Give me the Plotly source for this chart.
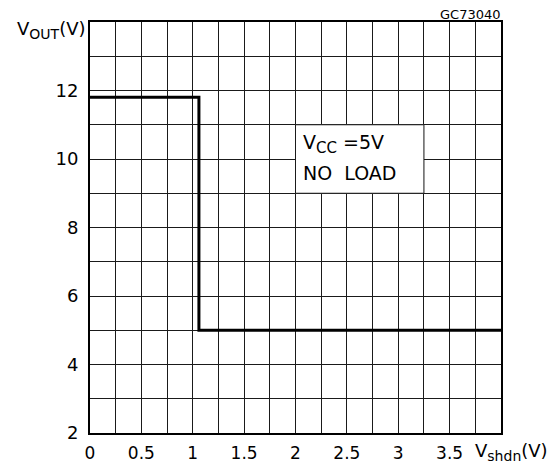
import plotly.graph_objects as go

# Data
shdn_v = [0.0, 1.06, 4.0]
vout = [11.8, 5.0, 5.0]

x_tick_vals = [i * 0.25 for i in range(17)]
x_tick_text = ["0", "", "0.5", "", "1", "", "1.5", "", "2", "", "2.5", "", "3", "", "3.5", "", ""]
y_tick_vals = list(range(2, 15))
y_tick_text = ["2", "", "4", "", "6", "", "8", "", "10", "", "12", "", ""]

FONT = "DejaVu Sans, Liberation Sans, sans-serif"
GRID = "#1a1a1a"

fig = go.Figure()
fig.add_trace(go.Scatter(
    x=shdn_v, y=vout, mode="lines", line=dict(color="black", width=3, shape="hv"),
    showlegend=False, hoverinfo="skip",
))

fig.add_shape(type="rect", x0=2, x1=3.25, y0=9, y1=11, xref="x", yref="y",
              fillcolor="white", line=dict(color=GRID, width=1), layer="above")

SUB = '<sub><span style="font-size:14px">{}</span></sub>'

fig.update_layout(
    width=550, height=463,
    margin=dict(l=82, r=57, t=14, b=38, autoexpand=False),
    paper_bgcolor="white", plot_bgcolor="white",
    font=dict(family=FONT, size=17, color="black"),
    xaxis=dict(range=[0, 4], tickvals=x_tick_vals, ticktext=x_tick_text,
               showgrid=True, gridcolor=GRID, gridwidth=1,
               showline=True, linecolor="black", linewidth=2, mirror=True,
               ticks="", ticklabelstandoff=4, zeroline=False, automargin=False,
               tickfont=dict(size=17)),
    yaxis=dict(range=[2, 14], tickvals=y_tick_vals, ticktext=y_tick_text,
               showgrid=True, gridcolor=GRID, gridwidth=1,
               showline=True, linecolor="black", linewidth=2, mirror=True,
               ticks="", ticklabelstandoff=6, zeroline=False, automargin=False,
               tickfont=dict(size=18)),
    annotations=[
        dict(text="V" + SUB.format("OUT") + "(V)", x=0, y=14, xref="x", yref="y",
             xanchor="right", yanchor="middle", xshift=-2, yshift=-8,
             showarrow=False, font=dict(size=18)),
        dict(text="V" + SUB.format("shdn") + "(V)", x=3.725, y=2, xref="x", yref="y",
             xanchor="left", yanchor="top", yshift=-5,
             showarrow=False, font=dict(size=18)),
        dict(text="GC73040", x=4, y=14, xref="x", yref="y",
             xanchor="right", yanchor="bottom", xshift=1, yshift=-1, borderpad=0,
             showarrow=False, font=dict(size=13)),
        dict(text="V" + '<sub><span style="font-size:15px">CC</span></sub>' + " =5V",
             x=2.05, y=10.44, xref="x", yref="y",
             xanchor="left", yanchor="middle",
             showarrow=False, font=dict(size=19)),
        dict(text="NO\u00a0\u00a0LOAD", x=2.05, y=9.59, xref="x", yref="y",
             xanchor="left", yanchor="middle",
             showarrow=False, font=dict(size=19)),
    ],
)

fig.write_html("out.html")
